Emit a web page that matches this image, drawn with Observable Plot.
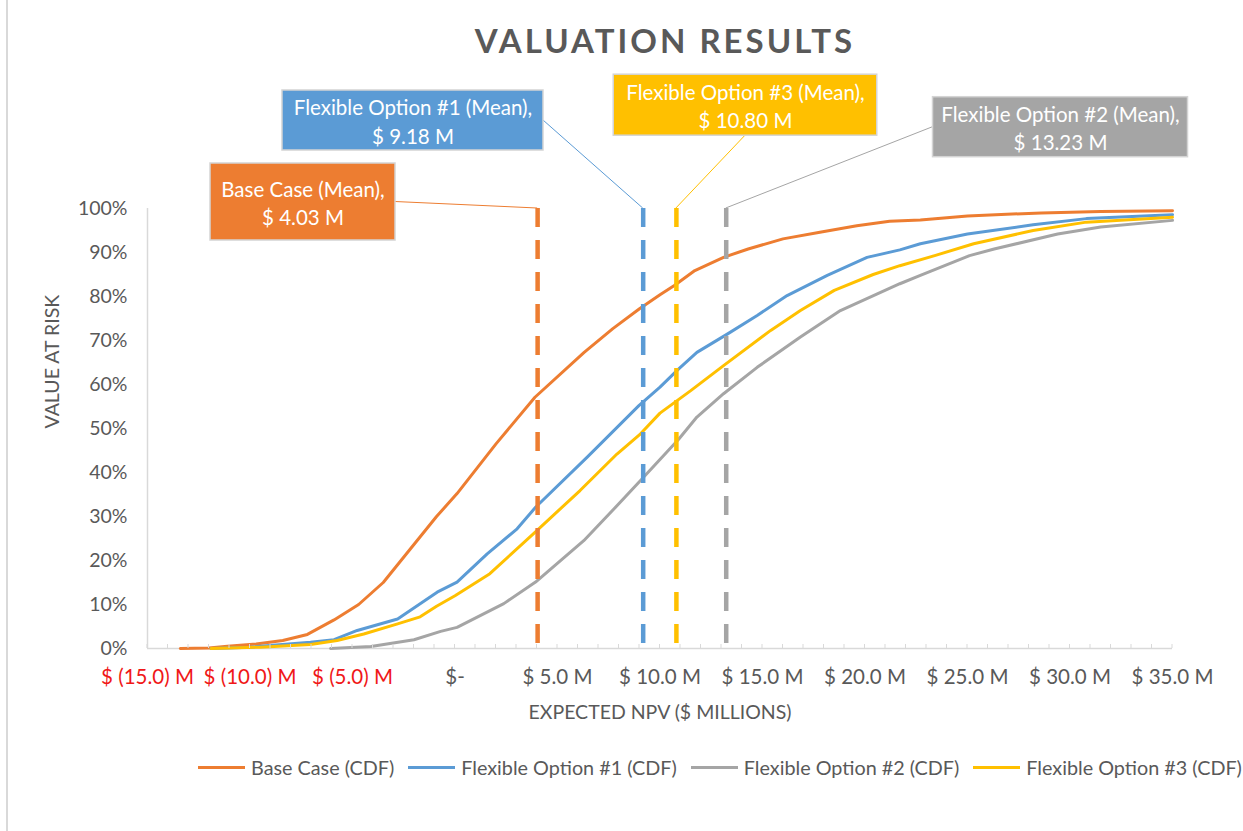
<!DOCTYPE html>
<html><head><meta charset="utf-8">
<script src="https://cdn.jsdelivr.net/npm/d3@7"></script>
<script src="https://cdn.jsdelivr.net/npm/@observablehq/plot@0.6"></script>
<style>
html,body{margin:0;padding:0;background:#fff;}
#wrap{position:relative;width:1243px;height:831px;overflow:hidden;font-family:Lato, sans-serif;color:#595959;}
#border{position:absolute;left:6px;top:0;bottom:0;width:2px;background:#d9d9d9;}
#title{position:absolute;left:0;top:10px;width:1243px;height:60px;line-height:60px;padding-left:87px;box-sizing:border-box;text-align:center;font-weight:700;font-size:33px;letter-spacing:3px;white-space:pre;}
#chart{position:absolute;left:0;top:72px;}
#legend{position:absolute;left:198px;top:752px;height:30px;display:flex;align-items:center;font-size:19.8px;white-space:nowrap;}
.item{display:flex;align-items:center;margin-right:14px;}
.sw{width:47px;height:3px;margin-right:6px;}
</style></head><body>
<div id="wrap"><div id="border"></div><div id="title"></div><div id="chart"></div><div id="legend"></div></div>
<script>
// ---------- DATA ----------
const titleText = "VALUATION RESULTS";
const xTitle = "EXPECTED NPV ($ MILLIONS)";
const yTitle = "VALUE AT RISK";
const seriesNames = ["Base Case", "Flexible Option #1", "Flexible Option #2", "Flexible Option #3"];
const seriesColors = ["#ED7D31", "#5B9BD5", "#A5A5A5", "#FFC000"];
const meanValues = [4.03, 9.18, 13.23, 10.80];
const meanLabels = ["$ 4.03 M", "$ 9.18 M", "$ 13.23 M", "$ 10.80 M"];

const xTickValues = [-15, -10, -5, 0, 5, 10, 15, 20, 25, 30, 35];
const xTickLabels = ["$ (15.0) M", "$ (10.0) M", "$ (5.0) M", "$-", "$ 5.0 M", "$ 10.0 M", "$ 15.0 M", "$ 20.0 M", "$ 25.0 M", "$ 30.0 M", "$ 35.0 M"];
const yTickValues = [0, 10, 20, 30, 40, 50, 60, 70, 80, 90, 100];
const yTickLabels = ["0%", "10%", "20%", "30%", "40%", "50%", "60%", "70%", "80%", "90%", "100%"];

// Expected NPV ($M) and cumulative probability (%)
const baseX = [-13.4, -12.0, -11.1, -9.7, -8.4, -7.2, -5.9, -4.7, -3.5, -2.2, -0.9, 0.1, 2.0, 3.9, 6.3, 7.7, 9.0, 10.0, 10.7, 11.7, 13.1, 14.3, 16.0, 17.8, 19.6, 21.2, 22.7, 25.0, 28.6, 31.5, 35.0];
const baseY = [0, 0.1, 0.5, 1.0, 1.8, 3.2, 6.5, 10.0, 15.0, 22.5, 30.0, 35.2, 46.5, 57.1, 67.3, 72.7, 77.2, 80.4, 82.5, 85.9, 88.9, 90.8, 93.1, 94.6, 96.1, 97.1, 97.4, 98.3, 99.0, 99.3, 99.5];
const opt1X = [-11.9, -10.0, -7.05, -5.9, -4.77, -2.8, -0.87, 0.1, 1.57, 3.03, 3.93, 6.45, 8.97, 10.0, 10.9, 11.8, 13.3, 14.74, 16.2, 18.16, 20.1, 21.7, 22.7, 25.0, 28.2, 30.8, 35.0];
const opt1Y = [0, 0.3, 1.4, 2.0, 4.1, 6.7, 12.8, 15.1, 21.5, 27.2, 32.1, 43.5, 55.2, 59.4, 63.5, 67.3, 71.5, 75.7, 80.2, 84.8, 88.9, 90.6, 92.0, 94.2, 96.3, 97.7, 98.6];
const opt2X = [-6.07, -4.1, -2.0, -0.7, 0.1, 2.38, 3.93, 6.28, 7.75, 9.05, 10.9, 11.8, 13.1, 14.74, 16.85, 18.8, 20.6, 21.7, 22.7, 25.1, 26.3, 29.4, 31.5, 35.0];
const opt2Y = [0, 0.45, 2.0, 3.9, 4.8, 10.2, 15.1, 24.5, 31.7, 38.2, 47.5, 52.6, 57.9, 63.9, 70.8, 76.8, 80.6, 82.9, 84.8, 89.3, 90.8, 94.2, 95.8, 97.3];
const opt3X = [-11.9, -9.5, -7.05, -5.75, -4.45, -2.8, -1.7, -0.9, 0.0, 1.7, 3.9, 6.1, 7.9, 9.05, 10.0, 11.5, 13.1, 15.4, 16.85, 18.5, 20.4, 21.7, 23.4, 25.3, 28.2, 30.8, 35.0];
const opt3Y = [0, 0.3, 0.9, 1.8, 3.3, 5.6, 7.2, 9.6, 12.0, 17.0, 26.4, 35.9, 44.2, 48.8, 53.5, 58.6, 64.3, 72.3, 76.8, 81.4, 85.0, 87.0, 89.3, 92.0, 95.0, 96.9, 98.0];

// ---------- BUILD TABLES ----------
const curveX = [baseX, opt1X, opt2X, opt3X];
const curveY = [baseY, opt1Y, opt2Y, opt3Y];
const rows = [];
seriesNames.forEach((s, i) => curveX[i].forEach((x, j) => rows.push({series: s, x, y: curveY[i][j]})));
const means = seriesNames.map((s, i) => ({series: s, mean: meanValues[i], color: seriesColors[i],
  label: `${s} (Mean),\n${meanLabels[i]}`}));
const xLabelMap = new Map(xTickValues.map((v, i) => [v, xTickLabels[i]]));
const yLabelMap = new Map(yTickValues.map((v, i) => [v, yTickLabels[i]]));
const xMinorTicks = d3.range(xTickValues[0], xTickValues[xTickValues.length - 1] + 1);

// ---------- LAYOUT (styles) ----------
const grey = "#595959";
const axisGrey = "#d9d9d9";
const calloutLayout = {
  "Base Case":          {dx: -234.6, dy: -6.5,   w: 185,   h: 77},
  "Flexible Option #1": {dx: -230.2, dy: -88,    w: 261,   h: 60},
  "Flexible Option #2": {dx: 334.3,  dy: -81.3,  w: 255,   h: 60},
  "Flexible Option #3": {dx: 69.1,   dy: -103.3, w: 263.5, h: 61}
};

// decorations drawn with the plot's scales: minor ticks, callout boxes and leader lines
function decorations(index, scales) {
  const X = scales.x, Y = scales.y;
  const g = d3.create("svg:g");
  xMinorTicks.forEach(v => g.append("line")
    .attr("x1", X(v)).attr("x2", X(v)).attr("y1", Y(0)).attr("y2", Y(0) - 4)
    .attr("stroke", axisGrey).attr("stroke-width", 1));
  means.forEach(m => {
    const L = calloutLayout[m.series];
    const ax = X(m.mean), ay = Y(yTickValues[yTickValues.length - 1]);
    const cx = ax + L.dx, cy = ay + L.dy;
    const x0 = cx - L.w / 2, x1 = cx + L.w / 2, y1 = cy + L.h / 2;
    let px, py;
    if (ax > x1) { px = x1; py = cy; }
    else if (ax < x0) { px = x0; py = cy; }
    else { px = cx; py = y1; }
    g.append("line").attr("x1", px).attr("y1", py).attr("x2", ax).attr("y2", ay)
      .attr("stroke", m.color).attr("stroke-width", 1);
    g.append("rect").attr("x", x0).attr("y", cy - L.h / 2).attr("width", L.w).attr("height", L.h)
      .attr("fill", m.color).attr("stroke", "#d4d4d4").attr("stroke-width", 1.5);
  });
  return g.node();
}

const calloutTexts = means.map(m => Plot.text([m], {
  x: "mean", y: () => yTickValues[yTickValues.length - 1], text: "label",
  dx: calloutLayout[m.series].dx, dy: calloutLayout[m.series].dy,
  fill: "white", fontSize: 20.5, lineHeight: 1.38, textAnchor: "middle"
}));

const plot = Plot.plot({
  width: 1243, height: 668,
  marginTop: 136, marginBottom: 92, marginLeft: 147, marginRight: 71,
  style: {fontFamily: "Lato, sans-serif", fontSize: "19.5px", color: grey, background: "transparent", overflow: "visible"},
  x: {domain: [xTickValues[0], xTickValues[xTickValues.length - 1]]},
  y: {domain: [yTickValues[0], yTickValues[yTickValues.length - 1]]},
  color: {domain: seriesNames, range: seriesColors},
  marks: [
    Plot.ruleY([yTickValues[0]], {stroke: axisGrey, strokeWidth: 1.5}),
    Plot.ruleX([xTickValues[0]], {stroke: axisGrey, strokeWidth: 1.5}),
    Plot.axisY(yTickValues, {tickSize: 0, tickPadding: 20, tickFormat: d => yLabelMap.get(d), label: null, fill: grey}),
    Plot.axisX(xTickValues.filter(v => v < 0), {tickSize: 0, tickPadding: 21, tickFormat: d => xLabelMap.get(d), label: null, fill: "#F01818", fontSize: 20.5}),
    Plot.axisX(xTickValues.filter(v => v >= 0), {tickSize: 0, tickPadding: 21, tickFormat: d => xLabelMap.get(d), label: null, fill: grey, fontSize: 20.5}),
    Plot.text([xTitle], {frameAnchor: "bottom", dy: 70, text: d => d, fill: grey}),
    Plot.text([yTitle], {frameAnchor: "left", dx: -95, rotate: -90, text: d => d, fill: grey}),
    Plot.line(rows, {x: "x", y: "y", z: "series", stroke: "series", strokeWidth: 3, strokeLinejoin: "round"}),
    Plot.ruleX(means, {x: "mean", y1: yTickValues[yTickValues.length - 1], y2: yTickValues[0], stroke: "series", strokeWidth: 4.5, strokeDasharray: "19,13"}),
    decorations,
    ...calloutTexts
  ]
});
document.getElementById("chart").appendChild(plot);
document.getElementById("title").textContent = titleText;

const legend = d3.select("#legend");
seriesNames.forEach((s, i) => {
  const item = legend.append("div").attr("class", "item");
  item.append("div").attr("class", "sw").style("background", seriesColors[i]);
  item.append("span").text(`${s} (CDF)`);
});
</script></body></html>
